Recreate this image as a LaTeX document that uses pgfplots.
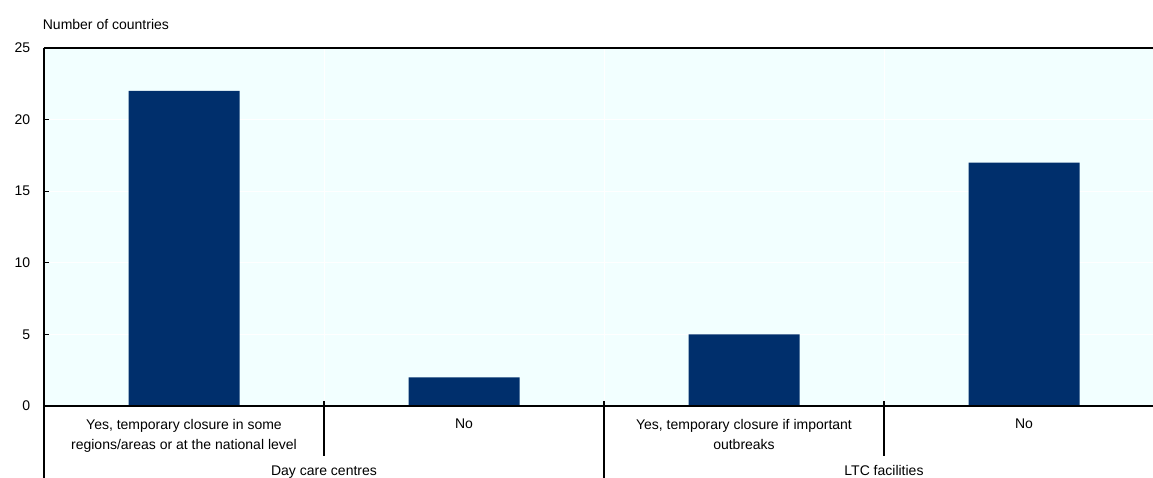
\documentclass[border=0pt]{standalone}
\usepackage{fontspec}
\setmainfont{Liberation Sans}
\usepackage{pgfplots}
\pgfplotsset{compat=1.18}
\definecolor{barblue}{RGB}{0,47,108}
\definecolor{panel}{RGB}{242,255,255}
\begin{document}
\fontsize{14pt}{20pt}\selectfont
\begin{tikzpicture}
\begin{axis}[
  at={(0,0)}, anchor=south west,
  scale only axis, width=1109pt, height=358pt,
  xmin=-0.5, xmax=3.4607, ymin=0, ymax=25,
  ytick={0,5,...,25},
  xtick={0,1,2,3},
  xticklabels={{Yes, temporary closure in some\\regions/areas or at the national level},{No},{Yes, temporary closure if important\\outbreaks},{No}},
  axis line style={draw=none},
  axis background/.style={fill=panel},
  ymajorgrids, major grid style={white, line width=0.8pt},
  ytick pos=left, tick align=inside, major tick length=5pt,
  ytick style={black, line width=1pt},
  xtick style={draw=none},
  /pgf/number format/assume math mode=true,
  ticklabel style={font=\fontsize{14pt}{20.5pt}\selectfont},
  yticklabel style={xshift=-9pt},
  xticklabel style={align=center, anchor=north, yshift=-8pt},
  clip=false,
]
% category boundaries inside the panel
\foreach \s in {0.5,1.5,2.5}{
  \edef\tmp{\noexpand\draw[white, line width=0.8pt] (axis cs:\s,0) -- (axis cs:\s,25);}\tmp
}
\addplot[ybar, bar width=111pt, fill=barblue, draw=none]
  coordinates {(0,22) (1,2) (2,5) (3,17)};
% frame
\draw[black, line width=1.5pt] (rel axis cs:0,1) -- (rel axis cs:1,1);
\draw[black, line width=1.5pt] ([yshift=-80pt]rel axis cs:0,0) -- (rel axis cs:0,1);
\draw[black, line width=2pt] (rel axis cs:0,0) -- (rel axis cs:1,0);
% separators between categories and groups
\draw[black, line width=1.2pt] ([yshift=5pt]axis cs:0.5,0) -- ([yshift=-50pt]axis cs:0.5,0);
\draw[black, line width=1.2pt] ([yshift=5pt]axis cs:1.5,0) -- ([yshift=-80pt]axis cs:1.5,0);
\draw[black, line width=1.2pt] ([yshift=5pt]axis cs:2.5,0) -- ([yshift=-50pt]axis cs:2.5,0);
% group labels
\node[anchor=base] at ([yshift=-69.5pt]axis cs:0.5,0) {Day care centres};
\node[anchor=base] at ([yshift=-69.5pt]axis cs:2.5,0) {LTC facilities};
% unit label
\node[anchor=base west] at ([xshift=-6pt, yshift=18pt]rel axis cs:0,1) {Number of countries};
\end{axis}
\pgfresetboundingbox
\useasboundingbox (-44pt,-72pt) rectangle (1109pt,406pt);
\end{tikzpicture}
\end{document}
